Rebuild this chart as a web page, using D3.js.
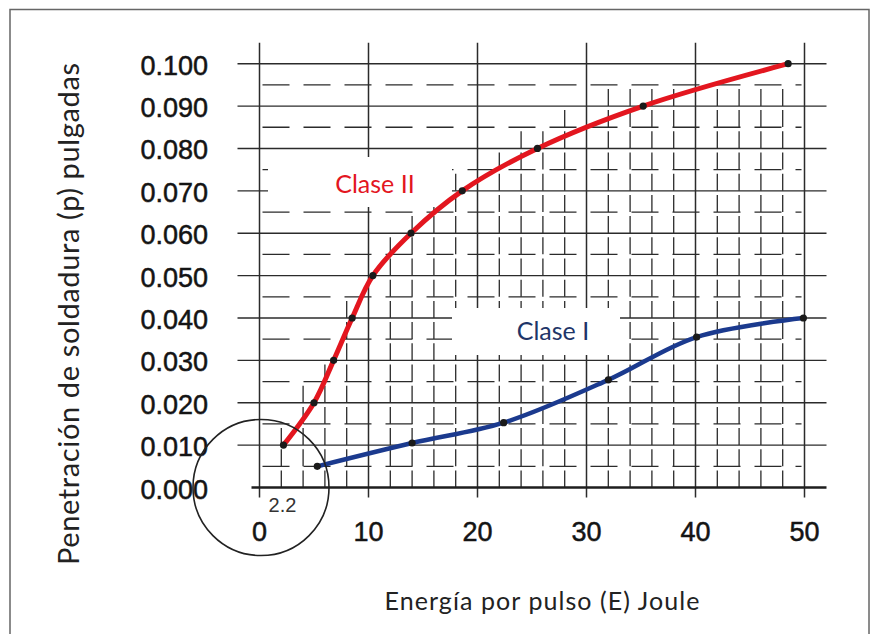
<!DOCTYPE html>
<html>
<head>
<meta charset="utf-8">
<script src="https://cdn.jsdelivr.net/npm/d3@7"></script>
<style>
  html, body { margin: 0; padding: 0; background: #ffffff; }
  svg { display: block; }
</style>
</head>
<body>
<svg id="chart" width="878" height="634"></svg>
<script>
// Axis ticks
const energyTicks = [0, 10, 20, 30, 40, 50];
const penetrationTicks = [0, 0.01, 0.02, 0.03, 0.04, 0.05, 0.06, 0.07, 0.08, 0.09, 0.1];
const penetrationLabels = ["0.000", "0.010", "0.020", "0.030", "0.040", "0.050",
                           "0.060", "0.070", "0.080", "0.090", "0.100"];

// Clase II series: energy (J) and penetration (in)
const claseIIEnergy = [2.2, 5.0, 6.8, 8.5, 10.4, 13.9, 18.6, 25.5, 35.2, 48.5];
const claseIIPenetration = [0.010, 0.020, 0.030, 0.040, 0.050, 0.060, 0.070, 0.080, 0.090, 0.100];

// Clase I series
const claseIEnergy = [5.3, 14.0, 22.4, 32.0, 40.1, 49.9];
const claseIPenetration = [0.005, 0.0105, 0.0153, 0.0254, 0.0355, 0.040];

// Callout at the start of Clase II
const startEnergy = 2.2;

const svg = d3.select("#chart");
const x = d3.scaleLinear().domain([0, 50]).range([259.5, 804.5]);
const y = d3.scaleLinear().domain([0, 0.1]).range([487.5, 63.7]);

const INK = "#2b2b2b";
const LABEL_FONT = "Lato, 'Open Sans', sans-serif";
const TICK_FONT = "'Liberation Sans', Arial, sans-serif";

// outer frame
svg.append("rect")
  .attr("x", 10).attr("y", 9.5).attr("width", 859).attr("height", 640)
  .attr("fill", "none").attr("stroke", "#666").attr("stroke-width", 1.5);

const grid = svg.append("g");

// Clase II value at a given energy (linear between recorded points), used
// to keep the fine vertical rulings below the upper curve
function claseIIAt(e) {
  if (e <= claseIIEnergy[0]) return claseIIPenetration[0] * e / claseIIEnergy[0];
  for (let i = 1; i < claseIIEnergy.length; i++) {
    if (e <= claseIIEnergy[i]) {
      const t = (e - claseIIEnergy[i - 1]) / (claseIIEnergy[i] - claseIIEnergy[i - 1]);
      return claseIIPenetration[i - 1] + t * (claseIIPenetration[i] - claseIIPenetration[i - 1]);
    }
  }
  return claseIIPenetration[claseIIPenetration.length - 1];
}

// fine vertical rulings every 2 J
const minorX = d3.range(2, 50, 2).filter(v => v % 10 !== 0);
grid.selectAll("line.minor-v").data(minorX).join("line")
  .attr("class", "minor-v")
  .attr("x1", d => x(d)).attr("x2", d => x(d))
  .attr("y1", y(0))
  .attr("y2", d => y(Math.min(0.095, Math.ceil((claseIIAt(d) + 0.004) / 0.005) * 0.005)))
  .attr("stroke", INK).attr("stroke-width", 1.3)
  .attr("stroke-dasharray", "17,4.2");

// dashed half-step horizontal rulings
const halfSteps = d3.range(0.005, 0.1, 0.01);
grid.selectAll("line.minor-h").data(halfSteps).join("line")
  .attr("class", "minor-h")
  .attr("x1", x(0) + 3).attr("x2", x(50) - 3)
  .attr("y1", d => y(d)).attr("y2", d => y(d))
  .attr("stroke", INK).attr("stroke-width", 1.3)
  .attr("stroke-dasharray", "27,14");

// solid horizontal rulings (also act as y ticks on the left)
grid.selectAll("line.major-h").data(penetrationTicks.slice(1)).join("line")
  .attr("class", "major-h")
  .attr("x1", x(0) - 22).attr("x2", x(50) + 22)
  .attr("y1", d => y(d)).attr("y2", d => y(d))
  .attr("stroke", INK).attr("stroke-width", 1.4);

// major vertical rulings
grid.selectAll("line.major-v").data(energyTicks).join("line")
  .attr("class", "major-v")
  .attr("x1", d => x(d)).attr("x2", d => x(d))
  .attr("y1", y(0.1) - 21).attr("y2", y(0) + 10)
  .attr("stroke", INK).attr("stroke-width", 1.5);

// x axis base line
grid.append("line")
  .attr("x1", x(0) - 8).attr("x2", x(50) + 22)
  .attr("y1", y(0)).attr("y2", y(0))
  .attr("stroke", "#1e1e1e").attr("stroke-width", 2.6);

// y tick labels
svg.append("g").selectAll("text").data(penetrationTicks).join("text")
  .attr("x", 208).attr("y", d => y(d) + 2)
  .attr("text-anchor", "end").attr("dominant-baseline", "central")
  .attr("font-family", TICK_FONT)
  .attr("font-size", 27).attr("fill", "#141414")
  .attr("stroke", "#141414").attr("stroke-width", 0.5)
  .text((d, i) => penetrationLabels[i]);

// x tick labels
svg.append("g").selectAll("text").data(energyTicks).join("text")
  .attr("x", d => x(d)).attr("y", 532)
  .attr("text-anchor", "middle").attr("dominant-baseline", "central")
  .attr("font-family", TICK_FONT)
  .attr("font-size", 27).attr("fill", "#141414")
  .attr("stroke", "#141414").attr("stroke-width", 0.5)
  .text(d => d);

// label panels
svg.append("rect").attr("x", 268).attr("y", 157).attr("width", 184).attr("height", 50).attr("fill", "#ffffff");
svg.append("rect").attr("x", 452).attr("y", 308).attr("width", 168).attr("height", 47).attr("fill", "#ffffff");

const line = d3.line().x(d => x(d[0])).y(d => y(d[1])).curve(d3.curveCatmullRom.alpha(0.5));

const claseII = d3.zip(claseIIEnergy, claseIIPenetration);
const claseI = d3.zip(claseIEnergy, claseIPenetration);

svg.append("path").datum(claseII).attr("d", line)
  .attr("fill", "none").attr("stroke", "#e3161f").attr("stroke-width", 5)
  .attr("stroke-linecap", "round");
svg.append("path").datum(claseI).attr("d", line)
  .attr("fill", "none").attr("stroke", "#1b3a8e").attr("stroke-width", 4.5)
  .attr("stroke-linecap", "round");

svg.append("g").selectAll("circle").data(claseII.concat(claseI)).join("circle")
  .attr("cx", d => x(d[0])).attr("cy", d => y(d[1])).attr("r", 3.6)
  .attr("fill", "#1a1a1a");

// series labels
svg.append("text").attr("x", 375).attr("y", 193).attr("text-anchor", "middle")
  .attr("font-family", LABEL_FONT).attr("font-size", 25)
  .attr("fill", "#e3161f").text("Clase II");
svg.append("text").attr("x", 553).attr("y", 340).attr("text-anchor", "middle")
  .attr("font-family", LABEL_FONT).attr("font-size", 25)
  .attr("fill", "#1f3568").text("Clase I");

// callout circle around the origin
svg.append("circle").attr("cx", x(0) + 1.5).attr("cy", y(0)).attr("r", 68)
  .attr("fill", "none").attr("stroke", "#222").attr("stroke-width", 1.6);
svg.append("text").attr("x", x(startEnergy) - 1).attr("y", 505)
  .attr("text-anchor", "middle").attr("dominant-baseline", "central")
  .attr("font-family", TICK_FONT).attr("font-size", 20)
  .attr("fill", "#333").text(startEnergy);

// axis titles
svg.append("text").attr("x", 542).attr("y", 610).attr("text-anchor", "middle")
  .attr("font-family", LABEL_FONT).attr("font-size", 25)
  .attr("textLength", 315).attr("lengthAdjust", "spacing")
  .attr("fill", "#222").text("Energía por pulso (E) Joule");
svg.append("text")
  .attr("transform", "translate(79,314) rotate(-90)")
  .attr("text-anchor", "middle")
  .attr("font-family", LABEL_FONT).attr("font-size", 29)
  .attr("textLength", 502).attr("lengthAdjust", "spacing")
  .attr("fill", "#222").text("Penetración de soldadura (p) pulgadas");
</script>
</body>
</html>
